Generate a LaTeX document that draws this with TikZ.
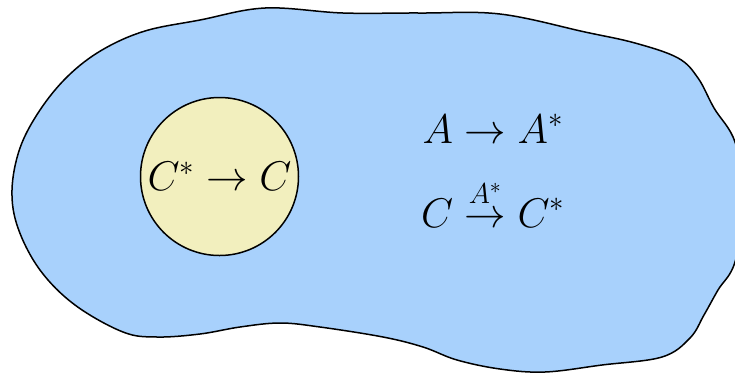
\documentclass[tikz,border=0pt]{standalone}
\usepackage{amsmath}
\definecolor{blobblue}{RGB}{168,209,252}
\definecolor{discyellow}{RGB}{242,239,190}
\begin{document}
\begin{tikzpicture}[x=0.5pt,y=-0.5pt,
  blob/.style={draw=black,fill=blobblue,line width=0.75pt},
  disc/.style={circle,draw=black,fill=discyellow,line width=0.75pt,minimum size=79pt,inner sep=0pt},
  label/.style={font=\fontsize{21.5}{26}\selectfont,anchor=base,inner sep=0pt}]
\useasboundingbox (0,0) rectangle (735,377);
\begin{scope}
\clip (0,0) rectangle (735,377);
\draw[blob] plot[smooth cycle,tension=0.6] coordinates {
 (12,190) (20,148) (40,110) (68,76) (102,50) (145,31) (200,20) (265,8)
 (343,13) (420,13) (500,14) (585,32) (635,43) (678,58) (698,78)
 (714,108) (735,142) (745,200) (735,262) (718,290) (704,315) (690,338)
 (662,357) (602,365) (545,372) (500,369) (457,360) (423,347) (383,337)
 (320,327) (280,323) (240,327) (200,334) (157,337) (123,332) (75,305)
 (40,270) (18,228)};
\end{scope}
\node[disc,font=\fontsize{21.5}{26}\selectfont] (inner) at (219.5,176.5) {$C^*\to C$};
\node[label] (map1) at (493,143) {$A\to A^*$};
\node[label] (map2) at (493,227) {$C\stackrel{A^*}{\to}C^*$};
\end{tikzpicture}
\end{document}
